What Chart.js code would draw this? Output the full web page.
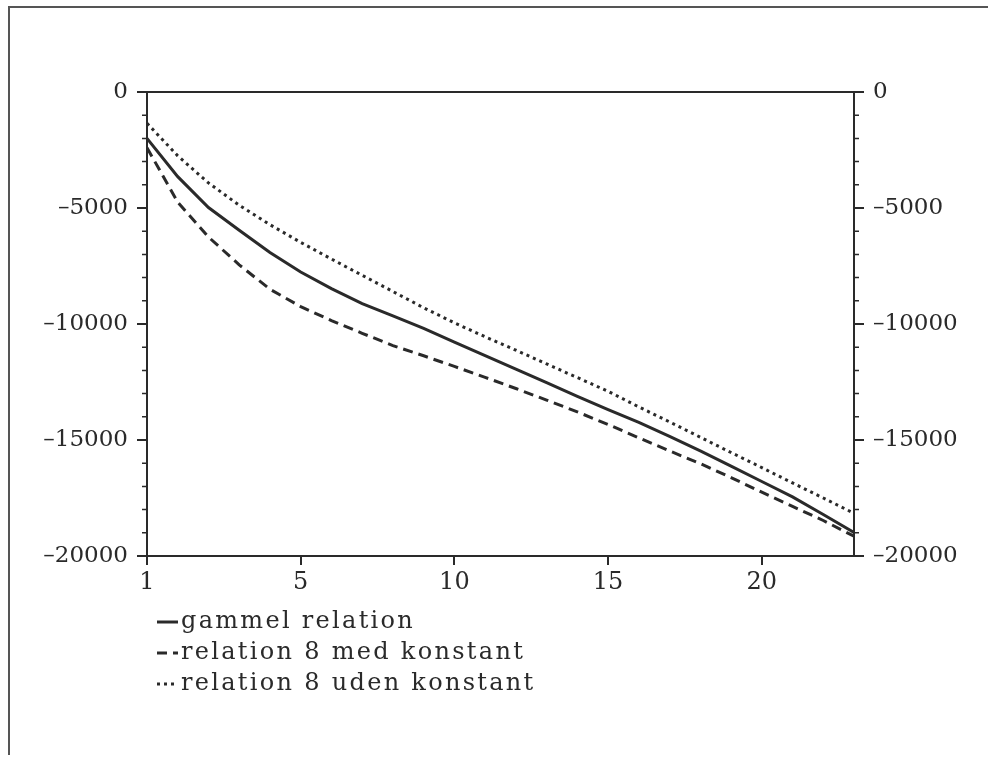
<!DOCTYPE html>
<html>
<head>
<meta charset="utf-8">
<script src="https://cdn.jsdelivr.net/npm/chart.js@4.4.0/dist/chart.umd.min.js"></script>
<style>
  html, body { margin: 0; padding: 0; background: #fff; }
  #wrap { width: 988px; height: 761px; }
</style>
</head>
<body>
<div id="wrap"><canvas id="myChart" width="988" height="761"></canvas></div>
<script>
// periods on the x axis (first one is labelled "1")
const periods = [0, 1, 2, 3, 4, 5, 6, 7, 8, 9, 10, 11, 12, 13, 14, 15, 16, 17, 18, 19, 20, 21, 22, 23];
const xTickValues = [0, 5, 10, 15, 20];
const xTickLabels = ['1', '5', '10', '15', '20'];
const yTickValues = [0, -5000, -10000, -15000, -20000];
const yTickLabels = ['0', '\u20135000', '\u201310000', '\u201315000', '\u201320000'];
const seriesNames = ['gammel relation', 'relation 8 med konstant', 'relation 8 uden konstant'];

const gammel = [-2000, -3650, -4980, -5960, -6920, -7760, -8475, -9120, -9650, -10190, -10780, -11360,
  -11950, -12530, -13115, -13690, -14240, -14840, -15470, -16130, -16790, -17450, -18210, -18990];
const medKonstant = [-2400, -4750, -6250, -7450, -8500, -9250, -9850, -10400, -10930, -11370, -11830, -12300,
  -12780, -13280, -13790, -14330, -14910, -15470, -16020, -16620, -17250, -17860, -18470, -19150];
const udenKonstant = [-1350, -2750, -3920, -4880, -5720, -6480, -7200, -7900, -8600, -9300, -9950, -10550,
  -11130, -11720, -12310, -12900, -13575, -14220, -14880, -15540, -16190, -16850, -17500, -18160];

const ink = '#2a2a2a';
const fontFam = "'DejaVu Serif', serif";

function points(values) {
  return periods.map((p, i) => ({ x: p, y: values[i] }));
}

// minor ticks, top line, page frame and the legend underneath
const extras = {
  id: 'extras',
  afterDraw(chart) {
    const ctx = chart.ctx;
    const area = chart.chartArea;
    const yL = chart.scales.y;
    const yR = chart.scales.y2;
    ctx.save();
    ctx.strokeStyle = ink;
    ctx.lineWidth = 2;

    ctx.beginPath();
    ctx.moveTo(area.left, area.top);
    ctx.lineTo(area.right, area.top);
    ctx.stroke();

    ctx.lineWidth = 1.5;
    for (let v = yL.min + 1000; v < yL.max; v += 1000) {
      if (v % 5000 === 0) continue;
      const py = yL.getPixelForValue(v);
      ctx.beginPath();
      ctx.moveTo(area.left - 5, py);
      ctx.lineTo(area.left, py);
      ctx.moveTo(area.right, yR.getPixelForValue(v));
      ctx.lineTo(area.right + 5, yR.getPixelForValue(v));
      ctx.stroke();
    }

    // frame of the page
    ctx.strokeStyle = '#555';
    ctx.lineWidth = 2;
    ctx.beginPath();
    ctx.moveTo(988, 7);
    ctx.lineTo(9, 7);
    ctx.lineTo(9, 755);
    ctx.stroke();

    // legend
    ctx.font = '24px ' + fontFam;
    ctx.letterSpacing = '2.3px';
    ctx.fillStyle = ink;
    ctx.textBaseline = 'middle';
    chart.data.datasets.forEach((ds, i) => {
      const rowY = 622 + i * 31;
      ctx.strokeStyle = ink;
      ctx.lineWidth = ds.borderWidth;
      ctx.setLineDash(ds.borderDash || []);
      ctx.beginPath();
      ctx.moveTo(157, rowY);
      ctx.lineTo(178, rowY);
      ctx.stroke();
      ctx.setLineDash([]);
      ctx.fillText(ds.label, 181, rowY);
    });
    ctx.restore();
  }
};

const yAxis = (pos, width) => ({
  type: 'linear',
  position: pos,
  min: -20000,
  max: 0,
  afterBuildTicks: s => { s.ticks = yTickValues.map(v => ({ value: v })); },
  afterFit: s => { s.width = width; },
  border: { display: true, color: ink, width: 2 },
  grid: { drawOnChartArea: false, drawTicks: true, tickLength: 10, color: ink, lineWidth: 2 },
  ticks: {
    padding: 9,
    color: ink,
    font: { family: fontFam, size: 23 },
    callback: v => yTickLabels[yTickValues.indexOf(v)]
  }
});

new Chart(document.getElementById('myChart'), {
  type: 'line',
  data: {
    datasets: [
      { label: seriesNames[0], data: points(gammel), borderColor: ink, borderWidth: 3, borderDash: [] },
      { label: seriesNames[1], data: points(medKonstant), borderColor: ink, borderWidth: 3, borderDash: [10, 6] },
      { label: seriesNames[2], data: points(udenKonstant), borderColor: ink, borderWidth: 3, borderDash: [3, 4] }
    ]
  },
  options: {
    responsive: false,
    devicePixelRatio: 1,
    animation: false,
    layout: { padding: { top: 92, left: 0, right: 0, bottom: 0 } },
    elements: { point: { radius: 0 }, line: { tension: 0, fill: false } },
    plugins: { legend: { display: false }, tooltip: { enabled: false } },
    scales: {
      x: {
        type: 'linear',
        min: 0,
        max: 23,
        afterBuildTicks: s => { s.ticks = xTickValues.map(v => ({ value: v })); },
        afterFit: s => { s.height = 761 - 556; },
        border: { display: true, color: ink, width: 2 },
        grid: { drawOnChartArea: false, drawTicks: true, tickLength: 9, color: ink, lineWidth: 2 },
        ticks: {
          padding: 3,
          maxRotation: 0,
          color: ink,
          font: { family: fontFam, size: 24 },
          callback: v => xTickLabels[xTickValues.indexOf(v)]
        }
      },
      y: yAxis('left', 147),
      y2: yAxis('right', 988 - 854)
    }
  },
  plugins: [extras]
});
</script>
</body>
</html>
